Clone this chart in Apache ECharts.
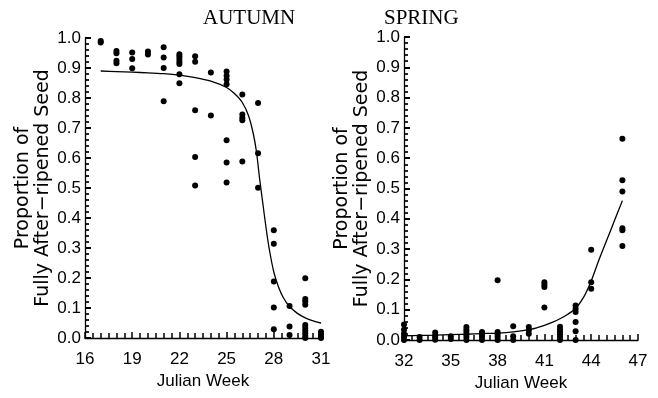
<!DOCTYPE html>
<html>
<head>
<meta charset="utf-8">
<script src="https://cdn.jsdelivr.net/npm/echarts@6/dist/echarts.min.js"></script>
<style>
html,body{margin:0;padding:0;background:#fff;}
#c{width:658px;height:398px;}
</style>
</head>
<body>
<div id="c"></div>
<script>
// ---- data ----
const autumnWeeks = [17,17, 18,18,18,18, 19,19,19, 20,20, 21,21,21,21, 22,22,22,22,22,22,22, 23,23,23,23,23, 24,24, 25,25,25,25,25,25,25, 26,26,26,26,26, 27,27,27, 28,28,28,28,28, 29,29,29, 30,30,30,30,30,30,30,30,30,30, 31,31,31,31];
const autumnProps = [0.99,0.985, 0.957,0.949,0.924,0.916, 0.952,0.930,0.899, 0.955,0.945, 0.969,0.935,0.900,0.789, 0.946,0.938,0.930,0.921,0.913,0.879,0.849, 0.939,0.921,0.759,0.603,0.508, 0.885,0.742, 0.888,0.874,0.862,0.846,0.659,0.585,0.518, 0.812,0.745,0.734,0.726,0.588, 0.783,0.616,0.501, 0.359,0.314,0.188,0.102,0.029, 0.107,0.038,0.010, 0.199,0.130,0.122,0.111,0.043,0.034,0.025,0.016,0.007,0.0, 0.021,0.012,0.003,0.0];

const springWeeks = [32,32,32,32,32, 33,33, 34,34,34,34, 35,35, 36,36,36,36,36,36, 37,37,37,37, 38,38,38,38,38, 39,39,39, 40,40,40, 41,41,41,41, 42,42,42,42,42,42, 43,43,43,43,43,43, 44,44,44, 46,46,46,46,46,46];
const springProps = [0.051,0.034,0.021,0.010,0.0, 0.010,0.0, 0.025,0.015,0.008,0.001, 0.012,0.003, 0.043,0.034,0.026,0.018,0.010,0.0, 0.026,0.018,0.010,0.0, 0.197,0.026,0.018,0.010,0.0, 0.045,0.012,0.0, 0.043,0.032,0.021, 0.191,0.182,0.175,0.107, 0.044,0.035,0.026,0.018,0.010,0.0, 0.114,0.103,0.092,0.059,0.029,0.0, 0.298,0.191,0.169, 0.664,0.527,0.490,0.369,0.362,0.310];

const autumnCurveWeeks = [17,18,19,20,21,22,23,24,25,25.5,26,26.4,26.7,26.9,27.1,27.3,27.5,27.7,28,28.3,28.6,29,29.5,30,30.5,31];
const autumnCurveVals  = [0.890,0.888,0.886,0.884,0.881,0.876,0.868,0.856,0.835,0.815,0.785,0.74,0.68,0.62,0.53,0.45,0.37,0.30,0.22,0.17,0.135,0.105,0.082,0.067,0.057,0.050];

const springCurveWeeks = [32,33,34,35,36,37,38,39,40,40.5,41,41.5,42,42.5,43,43.5,44,44.5,45,45.5,46];
const springCurveVals  = [0.014,0.015,0.016,0.018,0.019,0.021,0.023,0.027,0.034,0.040,0.048,0.058,0.070,0.085,0.105,0.14,0.195,0.265,0.33,0.395,0.46];

const panelTitles = ['AUTUMN','SPRING'];
const yAxisTitle = 'Proportion of\nFully After\u2212ripened Seed';
const xAxisTitle = 'Julian Week';

// ---- chart ----
function pairs(xs, ys){ return xs.map((x,i)=>[x, ys[i]]); }

const tickFontFamily = 'Liberation Sans, Arial, sans-serif';
function yAxis(gridIndex, gap){
  return {
    type:'value', gridIndex, min:0, max:1, interval:0.1,
    axisLine:{show:true, lineStyle:{color:'#000', width:1.3}},
    axisTick:{show:true, inside:true, length:6, lineStyle:{color:'#000', width:2}},
    minorTick:{show:true, splitNumber:5, length:4, lineStyle:{color:'#000', width:1.7}},
    splitLine:{show:false},
    axisLabel:{margin:4, formatter:function(v){return v.toFixed(1);}, fontFamily:tickFontFamily, fontSize:17, color:'#000'},
    name:yAxisTitle, nameLocation:'middle', nameRotate:90, nameGap:gap,
    nameTextStyle:{fontFamily:'DejaVu Sans, sans-serif', fontSize:19, color:'#000', lineHeight:20}
  };
}
function xAxis(gridIndex, mn, mx){
  return {
    type:'value', gridIndex, min:mn, max:mx, interval:3,
    axisLine:{show:true, onZero:false, lineStyle:{color:'#000', width:1.3}},
    axisTick:{show:true, inside:true, length:6, lineStyle:{color:'#000', width:1.5}},
    minorTick:{show:true, splitNumber:6, length:5, lineStyle:{color:'#000', width:1.5}},
    splitLine:{show:false},
    axisLabel:{margin:13, fontFamily:tickFontFamily, fontSize:17, color:'#000'},
    name:xAxisTitle, nameLocation:'middle', nameGap:34,
    nameTextStyle:{fontFamily:tickFontFamily, fontSize:17, color:'#000'}
  };
}

const chart = echarts.init(document.getElementById('c'), null, {renderer:'canvas'});
chart.setOption({
  animation:false,
  backgroundColor:'#fff',
  title:[
    {text:panelTitles[0], left:198, top:3, textStyle:{fontFamily:'Liberation Serif, Times New Roman, serif', fontSize:21, fontWeight:'normal', color:'#000'}},
    {text:panelTitles[1], left:379, top:3, textStyle:{fontFamily:'Liberation Serif, Times New Roman, serif', fontSize:21, fontWeight:'normal', color:'#000'}}
  ],
  grid:[
    {left:85, top:38, width:236, height:300},
    {left:404, top:37, width:234, height:303}
  ],
  xAxis:[xAxis(0,16,31), xAxis(1,32,47)],
  yAxis:[yAxis(0,29), yAxis(1,25)],
  series:[
    {type:'scatter', xAxisIndex:0, yAxisIndex:0, data:pairs(autumnWeeks, autumnProps), symbolSize:6, itemStyle:{color:'#000', opacity:1}, clip:false},
    {type:'line', xAxisIndex:0, yAxisIndex:0, data:pairs(autumnCurveWeeks, autumnCurveVals), showSymbol:false, smooth:0.3, lineStyle:{color:'#000', width:1.3}},
    {type:'scatter', xAxisIndex:1, yAxisIndex:1, data:pairs(springWeeks, springProps), symbolSize:6, itemStyle:{color:'#000', opacity:1}, clip:false},
    {type:'line', xAxisIndex:1, yAxisIndex:1, data:pairs(springCurveWeeks, springCurveVals), showSymbol:false, smooth:0.3, lineStyle:{color:'#000', width:1.3}}
  ]
});
</script>
</body>
</html>
